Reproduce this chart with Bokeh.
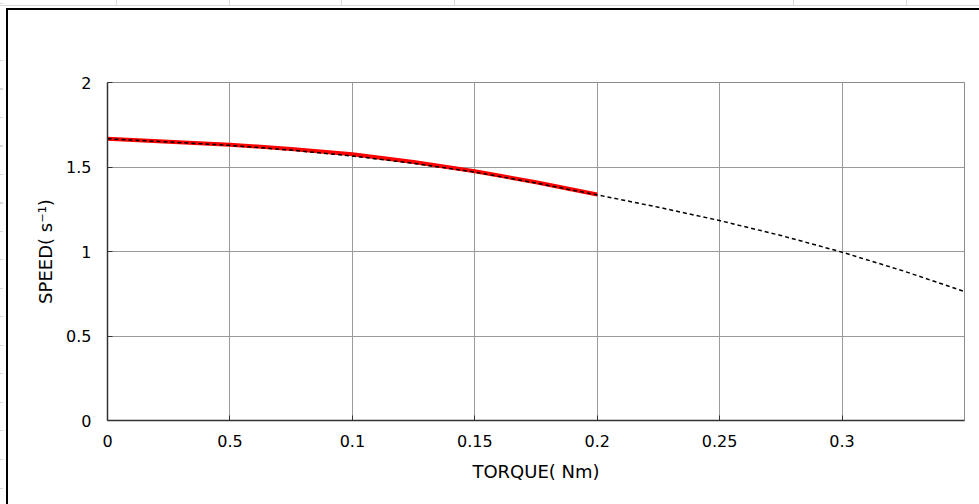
from bokeh.plotting import figure
from bokeh.models import FixedTicker
from bokeh.embed import file_html
from bokeh.resources import INLINE

# ---- data ----
torque_rated = [0.0, 0.025, 0.05, 0.075, 0.1, 0.125, 0.15, 0.175, 0.2]
speed_rated = [1.667, 1.650, 1.632, 1.607, 1.575, 1.530, 1.475, 1.410, 1.337]

torque_ext = [0.0, 0.025, 0.05, 0.075, 0.1, 0.125, 0.15, 0.175, 0.2,
              0.225, 0.25, 0.275, 0.3, 0.325, 0.35]
speed_ext = [1.667, 1.648, 1.628, 1.600, 1.565, 1.522, 1.470, 1.405, 1.335,
             1.262, 1.183, 1.095, 0.996, 0.885, 0.763]

x_ticks = [0, 0.05, 0.1, 0.15, 0.2, 0.25, 0.3]
x_tick_labels = ["0", "0.5", "0.1", "0.15", "0.2", "0.25", "0.3"]
y_ticks = [0, 0.5, 1, 1.5, 2]
y_tick_labels = ["0", "0.5", "1", "1.5", "2"]

x_label = "TORQUE( Nm)"
y_label = "SPEED( s\u207b\u00b9)"

FONT = "DejaVu Sans"

p = figure(width=979, height=504, output_backend="svg", toolbar_location=None,
           x_range=(0, 0.35), y_range=(0, 2),
           min_border_left=107, min_border_right=15,
           min_border_top=82, min_border_bottom=84)

# page decoration behind a transparent canvas border: thick black chart-area
# edge (top & left) and faint spreadsheet cell lines
BLK = "linear-gradient(#000,#000)"
GRY = "linear-gradient(#d9d9d9,#d9d9d9)"
layers = [
    f"{BLK} 6px 8px / 973px 2px no-repeat",
    f"{BLK} 6px 8px / 2px 496px no-repeat",
    f"{GRY} 0px 5px / 979px 1px no-repeat",
]
for cx in [116, 229, 341, 454, 793, 906]:
    layers.append(f"{GRY} {cx}px 0px / 1px 5px no-repeat")
layers.append("repeating-linear-gradient(to bottom, transparent 0px, transparent 3px, "
              "#d9d9d9 3px, #d9d9d9 4px, transparent 4px, transparent 28.5px) "
              "0px 0px / 3px 504px no-repeat")
p.styles = {"background": ", ".join(layers) + ", #ffffff"}

p.background_fill_color = "white"
p.border_fill_color = None
p.outline_line_color = "#8c8c8c"
p.outline_line_width = 1

# grid
p.xgrid.ticker = FixedTicker(ticks=x_ticks)
p.ygrid.ticker = FixedTicker(ticks=y_ticks)
for g in (p.xgrid, p.ygrid):
    g.grid_line_color = "#9a9a9a"
    g.grid_line_width = 1

# axes
p.xaxis.ticker = FixedTicker(ticks=x_ticks)
p.yaxis.ticker = FixedTicker(ticks=y_ticks)
p.xaxis.major_label_overrides = {v: s for v, s in zip(x_ticks, x_tick_labels)}
p.yaxis.major_label_overrides = {v: s for v, s in zip(y_ticks, y_tick_labels)}
for ax in (p.xaxis, p.yaxis):
    ax.axis_line_color = "#333333"
    ax.axis_line_width = 1.5
    ax.major_tick_line_color = "#333333"
    ax.major_tick_in = 5
    ax.major_tick_out = 0
    ax.minor_tick_line_color = None
    ax.major_label_text_font = FONT
    ax.major_label_text_font_size = "16px"
    ax.major_label_text_color = "black"
    ax.axis_label_text_font = FONT
    ax.axis_label_text_font_size = "18px"
    ax.axis_label_text_font_style = "normal"
    ax.axis_label_text_color = "black"
p.xaxis.major_label_standoff = 14
p.yaxis.major_label_standoff = 16
p.xaxis.axis_label = x_label
p.yaxis.axis_label = y_label
p.xaxis.axis_label_standoff = 11
p.yaxis.axis_label_standoff = 7

# series
p.line(torque_rated, speed_rated, line_color="red", line_width=4)
p.line(torque_ext, speed_ext, line_color="black", line_width=1.5, line_dash="4 3")

open("out.html", "w").write(file_html(p, INLINE))
